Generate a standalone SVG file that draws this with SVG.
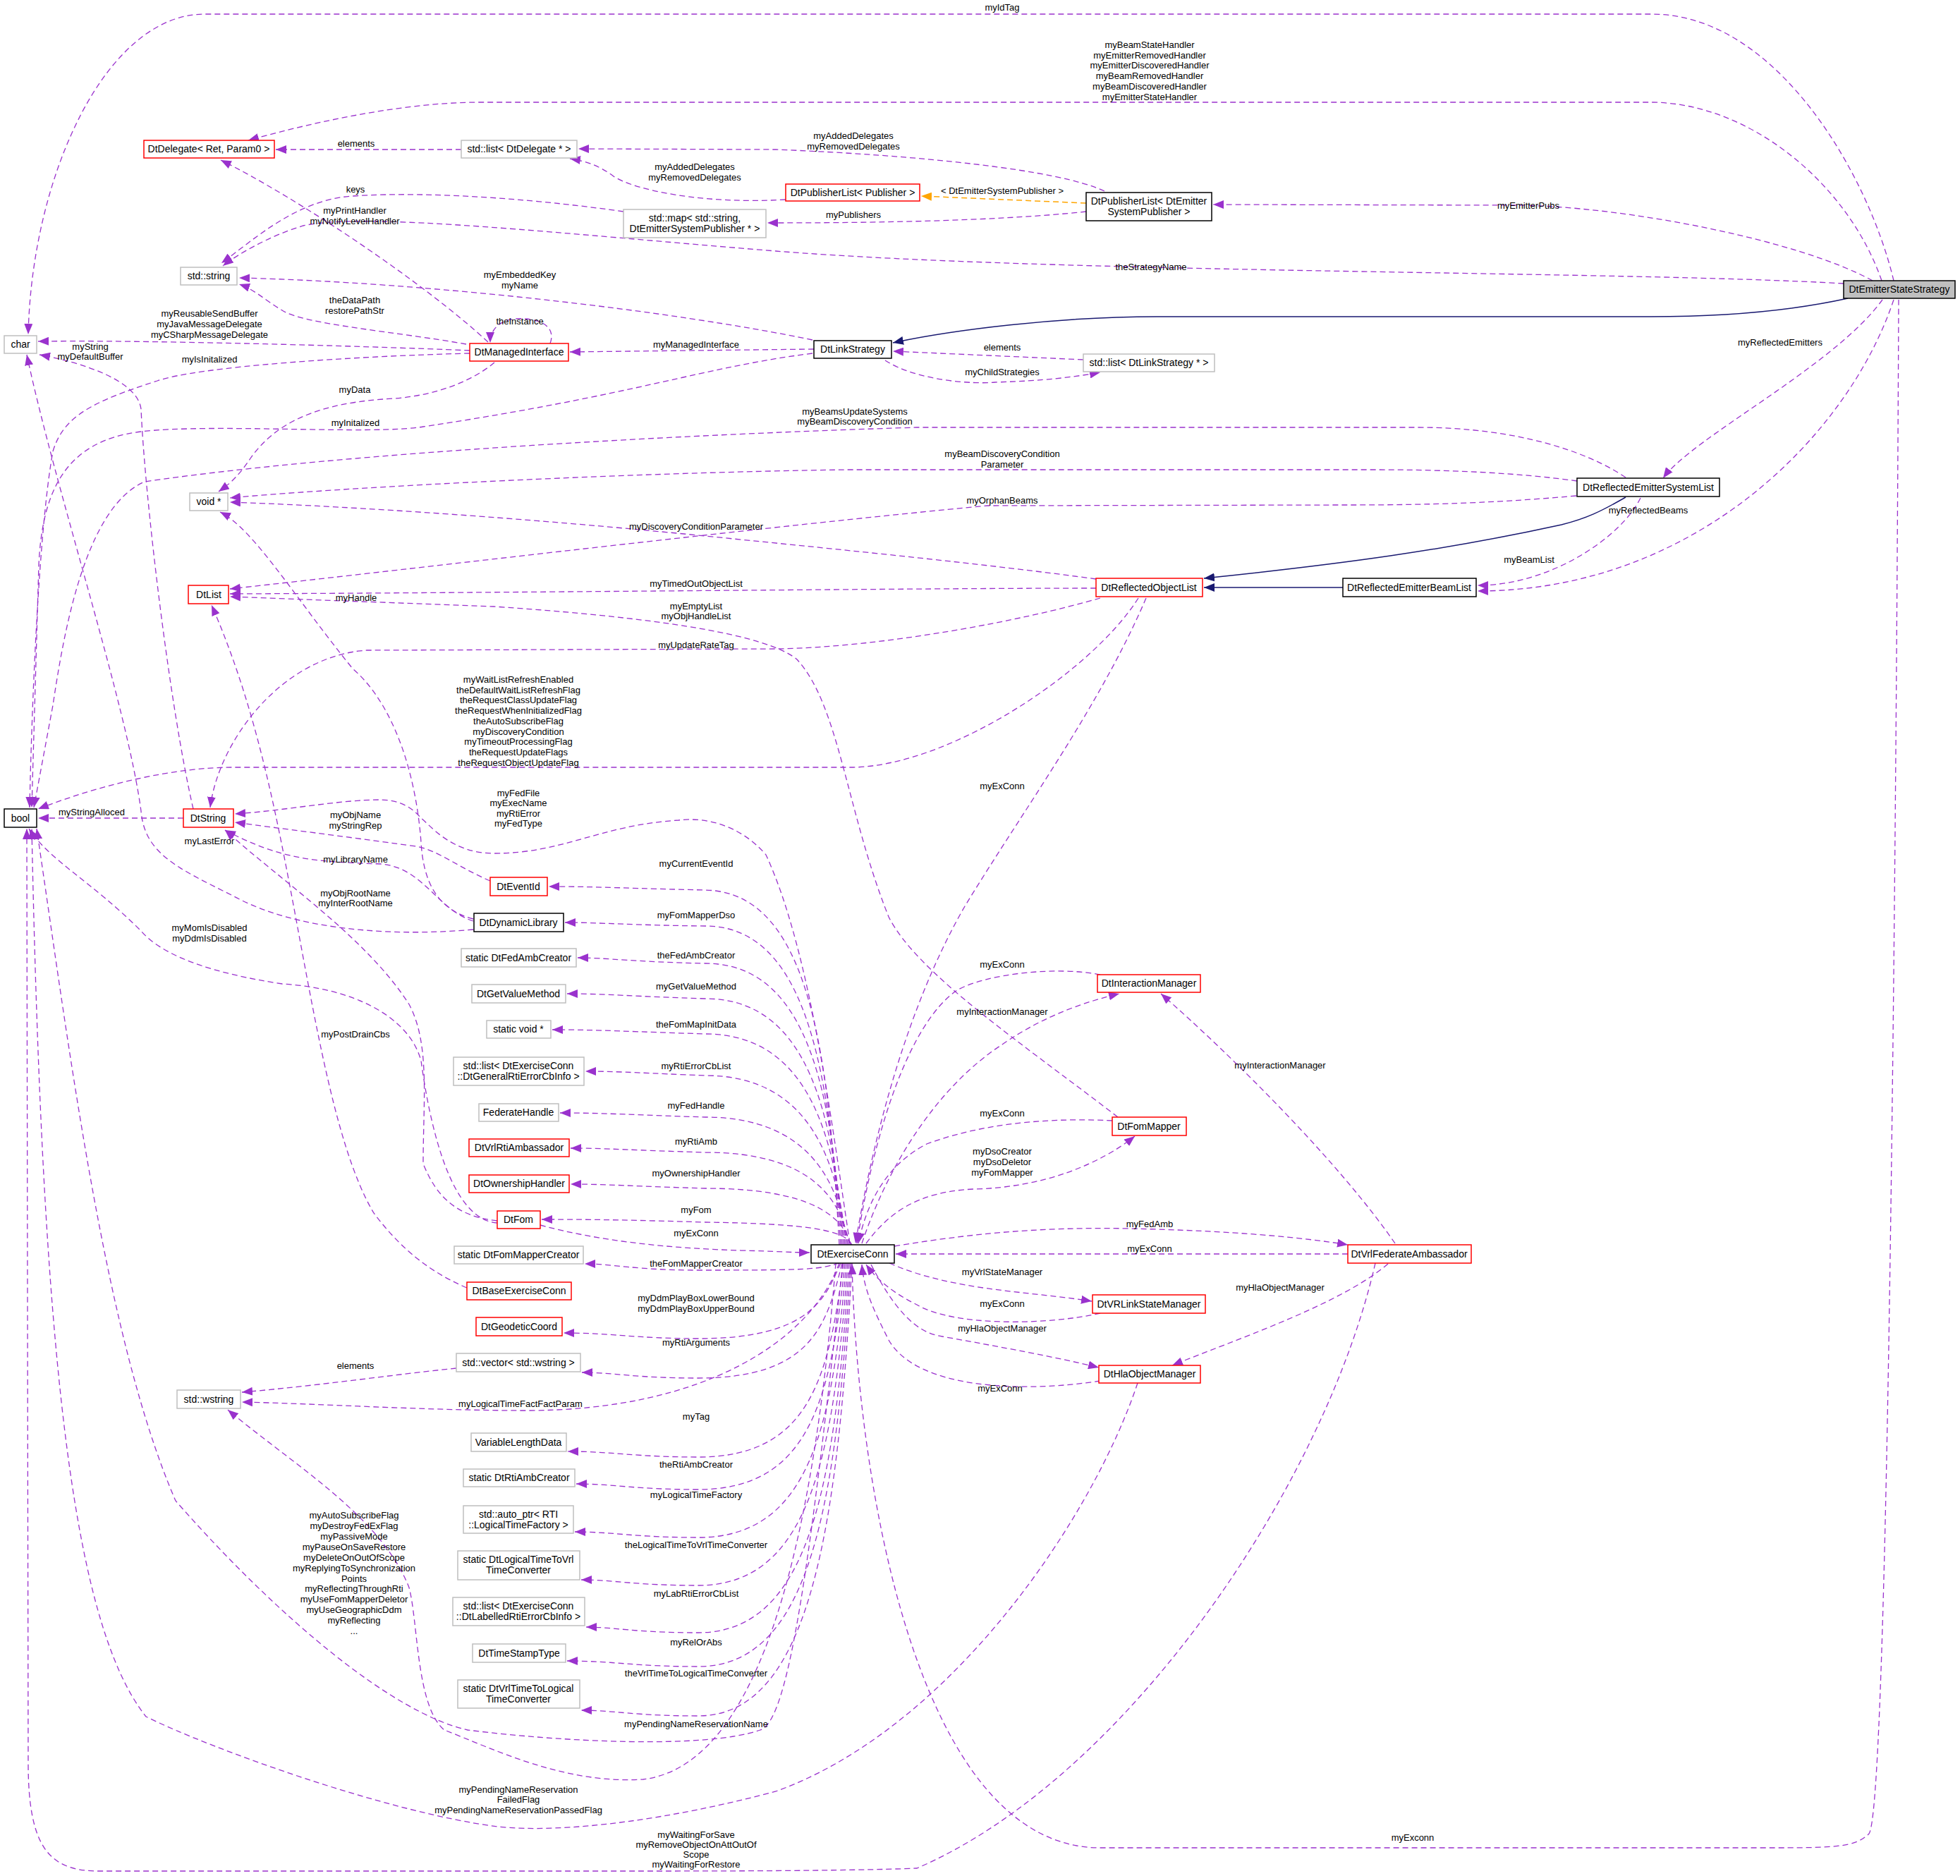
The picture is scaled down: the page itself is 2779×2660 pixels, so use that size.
<svg xmlns="http://www.w3.org/2000/svg" width="2779" height="2660" viewBox="0 0 2779 2660">
<style>
text{font-family:"Liberation Sans",Arial,sans-serif;fill:#000}
.n text{font-size:14px;text-anchor:middle}
.l{font-size:13px;text-anchor:middle}
.b{fill:#fff;stroke:#000;stroke-width:1.5}
.r{fill:#fff;stroke:#f00;stroke-width:1.5}
.g{fill:#fff;stroke:#bfbfbf;stroke-width:1.5}
.m{fill:#bfbfbf;stroke:#000;stroke-width:1.5}
#edges path{fill:none}
.p{stroke:#9a32cd;stroke-width:1.3;stroke-dasharray:8,5;marker-end:url(#ap)}
.i{stroke:#191970;stroke-width:1.5;marker-end:url(#ai)}
.o{stroke:#ffa500;stroke-width:1.5;stroke-dasharray:8,5;marker-end:url(#ao)}
</style>
<defs>
<marker id="ap" markerUnits="userSpaceOnUse" markerWidth="16" markerHeight="12" refX="15" refY="6" orient="auto"><path d="M0,0 L15,6 L0,12 z" fill="#9a32cd"/></marker>
<marker id="ai" markerUnits="userSpaceOnUse" markerWidth="16" markerHeight="12" refX="15" refY="6" orient="auto"><path d="M0,0 L15,6 L0,12 z" fill="#191970"/></marker>
<marker id="ao" markerUnits="userSpaceOnUse" markerWidth="16" markerHeight="12" refX="15" refY="6" orient="auto"><path d="M0,0 L15,6 L0,12 z" fill="#ffa500"/></marker>
</defs>
<rect width="2779" height="2660" fill="#fff"/>
<g id="edges">
<path class="p" d="M2685,398 C2650,250 2520,20 2342,20 L290,20 C150,20 45,250 40,474"/>
<path class="p" d="M2668,398 C2620,260 2480,145 2340,145 L680,145 C560,145 420,180 352,199"/>
<path class="p" d="M2655,398 C2550,340 2300,292 2150,291 L1720,290"/>
<path class="p" d="M2614,402 C2300,384 1500,388 1100,356 C800,332 520,300 430,320 C380,335 335,362 316,377"/>
<path class="i" d="M2620,423 C2520,445 2420,449 2340,449 L1640,449 C1500,449 1350,468 1266,486"/>
<path class="p" d="M2669,425 C2600,520 2400,620 2358,678"/>
<path class="p" d="M2685,425 C2620,620 2400,838 2095,838"/>
<path class="p" d="M2692,425 C2690,900 2680,2560 2650,2600 C2630,2620 2600,2620 2500,2620 L1560,2620 C1300,2620 1215,2100 1208,1792"/>
<path class="p" d="M1566,271 C1500,240 1300,220 1100,212 L820,211"/>
<path class="o" d="M1540,288 L1306,278"/>
<path class="p" d="M1540,300 C1400,315 1200,316 1088,316"/>
<path class="p" d="M1114,283 C1000,290 900,270 870,250 C850,235 830,228 808,225"/>
<path class="p" d="M654,212 L391,212"/>
<path class="p" d="M884,300 C780,285 620,270 500,278 C420,283 360,340 314,373"/>
<path class="p" d="M692,485 C600,400 420,280 313,227"/>
<path class="p" d="M661,488 C560,470 430,460 400,440 C375,425 360,410 339,403"/>
<path class="p" d="M780,487 C790,460 760,450 730,452 C705,455 695,470 695,486"/>
<path class="p" d="M666,497 C500,490 200,482 54,484"/>
<path class="p" d="M666,501 C500,505 280,520 223,540 C130,570 90,590 75,640 C55,750 45,1000 42,1145"/>
<path class="p" d="M701,514 C670,540 620,560 560,565 C450,570 390,600 355,650 C335,680 320,690 310,697"/>
<path class="p" d="M1152,482 C950,440 600,400 339,394"/>
<path class="p" d="M1154,495 L808,499"/>
<path class="p" d="M1152,501 C1000,520 900,560 600,605 C530,617 300,600 200,612 C90,625 60,700 55,800 L45,1145"/>
<path class="p" d="M1536,510 L1266,498"/>
<path class="p" d="M1255,511 C1300,540 1380,545 1411,542 C1480,540 1520,535 1560,528"/>
<path class="p" d="M2305,677 C2250,640 2150,606 2010,606 L1300,606 C1000,615 500,640 205,683 C120,720 90,900 75,1000 L48,1145"/>
<path class="p" d="M2236,682 C2150,670 2050,666 1950,666 L1200,666 C900,670 500,690 326,706"/>
<path class="p" d="M2235,703 C2100,715 2000,716 1900,716 L1400,717 C1100,745 600,805 326,835"/>
<path class="i" d="M2305,705 C2270,725 2250,735 2214,744 C2050,780 1900,800 1707,820"/>
<path class="p" d="M2326,706 C2300,760 2200,830 2095,830"/>
<path class="i" d="M1904,833 L1707,833"/>
<path class="p" d="M1554,821 C1400,800 1200,780 1000,760 C700,730 450,716 326,712"/>
<path class="p" d="M1554,834 C1300,834 800,840 326,842"/>
<path class="p" d="M1560,848 C1450,880 1250,918 1100,920 L520,922 C400,930 310,1050 298,1145"/>
<path class="p" d="M1614,848 C1550,950 1350,1085 1210,1088 L330,1088 C250,1088 150,1110 54,1147"/>
<path class="p" d="M1625,848 C1560,1000 1450,1150 1368,1285 C1290,1420 1240,1600 1213,1763"/>
<path class="p" d="M1585,1584 C1450,1480 1300,1380 1260,1300 C1200,1150 1190,1000 1130,935 C1100,910 1000,880 700,860 L326,846"/>
<path class="p" d="M671,1303 C620,1290 600,1250 597,1194 C590,1100 560,1000 500,948 C420,850 360,750 312,726"/>
<path class="p" d="M260,1160 L54,1160"/>
<path class="p" d="M274,1147 C240,1000 205,700 200,580 C195,540 120,515 56,503"/>
<path class="p" d="M671,1318 C560,1328 420,1320 330,1270 C250,1230 205,1210 200,1150 C180,1000 80,700 38,503"/>
<path class="p" d="M671,1306 C620,1290 600,1230 540,1225 C450,1222 400,1220 319,1177"/>
<path class="p" d="M695,1249 C650,1230 620,1205 590,1200 C480,1185 400,1175 333,1166"/>
<path class="p" d="M705,1731 C650,1725 620,1700 600,1650 C600,1560 610,1480 580,1424 C520,1330 400,1250 319,1177"/>
<path class="p" d="M705,1734 C640,1730 610,1600 597,1504 C580,1441 500,1401 400,1395 C300,1380 230,1355 200,1320 C130,1250 70,1220 41,1175"/>
<path class="p" d="M662,1826 C600,1800 560,1760 530,1720 C470,1620 440,1400 400,1200 C370,1050 340,950 300,858"/>
<path class="p" d="M1205,1763 C1180,1600 1150,1350 1086,1212 C1050,1170 1000,1158 962,1163 C850,1170 800,1210 700,1210 C640,1210 610,1170 597,1160 C580,1140 560,1134 539,1134 C480,1134 400,1150 333,1154"/>
<!-- EC to left column above -->
<path class="p" d="M1190,1765 C1175,1500 1150,1265 1000,1262 C900,1260 850,1257 778,1257"/>
<path class="p" d="M1192,1765 C1177,1540 1150,1313 1000,1313 C900,1312 850,1308 801,1308"/>
<path class="p" d="M1194,1765 C1180,1560 1150,1366 1000,1366 C900,1364 860,1358 819,1358"/>
<path class="p" d="M1196,1765 C1182,1590 1150,1416 1000,1416 C900,1413 860,1409 804,1409"/>
<path class="p" d="M1198,1765 C1185,1620 1150,1466 1000,1466 C900,1463 850,1460 783,1460"/>
<path class="p" d="M1200,1765 C1188,1650 1150,1525 1000,1525 C920,1522 880,1519 830,1519"/>
<path class="p" d="M1202,1765 C1190,1680 1150,1584 1000,1584 C900,1581 860,1578 794,1578"/>
<path class="p" d="M1204,1765 C1193,1700 1150,1634 1000,1634 C900,1631 860,1628 809,1628"/>
<path class="p" d="M1206,1765 C1196,1725 1150,1685 1000,1685 C900,1682 860,1679 809,1679"/>
<path class="p" d="M1208,1765 C1198,1745 1150,1735 1000,1733 C900,1730 850,1729 768,1729"/>
<path class="p" d="M766,1737 C850,1760 950,1770 1050,1773 C1100,1774 1120,1776 1148,1776"/>
<!-- EC to left column below -->
<path class="p" d="M1190,1791 C1160,1800 1150,1801 990,1801 C900,1801 870,1792 829,1792"/>
<path class="p" d="M1192,1791 C1170,1840 1150,1898 990,1898 C900,1898 870,1890 799,1890"/>
<path class="p" d="M1194,1791 C1172,1880 1150,1954 990,1954 C900,1954 870,1946 825,1946"/>
<path class="p" d="M1190,1791 C1150,1900 1000,2000 746,2000 C600,2000 450,1990 343,1988"/>
<path class="p" d="M647,1940 C550,1950 450,1965 343,1974"/>
<path class="p" d="M1196,1791 C1175,1950 1150,2066 990,2066 C900,2066 870,2058 805,2058"/>
<path class="p" d="M1198,1791 C1178,1980 1150,2112 990,2112 C900,2112 870,2104 817,2104"/>
<path class="p" d="M1200,1791 C1180,2020 1150,2180 990,2180 C900,2180 870,2172 815,2172"/>
<path class="p" d="M1202,1791 C1182,2060 1150,2248 990,2248 C900,2248 870,2240 824,2240"/>
<path class="p" d="M1204,1791 C1184,2100 1150,2315 990,2315 C900,2315 870,2307 831,2307"/>
<path class="p" d="M1206,1791 C1186,2130 1150,2363 990,2363 C900,2363 870,2355 804,2355"/>
<path class="p" d="M1208,1791 C1188,2160 1150,2433 990,2433 C900,2433 870,2425 824,2425"/>
<path class="p" d="M1185,1791 C1160,2100 1100,2500 912,2523 C800,2530 700,2480 630,2453 C590,2420 593,2300 580,2251 C540,2150 420,2080 323,1999"/>
<path class="p" d="M1195,1791 C1150,2200 1120,2440 1078,2453 C1000,2480 800,2470 663,2453 C560,2430 400,2300 249,2128 C150,1900 100,1500 52,1175"/>
<path class="p" d="M1613,1961 C1550,2150 1350,2450 1100,2540 C950,2580 800,2600 705,2590 C550,2570 300,2480 207,2434 C100,2300 60,1900 45,1175"/>
<path class="p" d="M1950,1791 C1880,2100 1600,2520 1300,2649 C1200,2653 1000,2653 900,2653 L140,2653 C70,2653 40,2620 40,2500 L38,1175"/>
<!-- right side -->
<path class="p" d="M1560,1382 C1500,1370 1400,1380 1357,1404 C1290,1450 1240,1600 1215,1763"/>
<path class="p" d="M1222,1763 C1260,1650 1330,1540 1421,1481 C1480,1440 1540,1420 1587,1409"/>
<path class="p" d="M1577,1589 C1500,1585 1400,1590 1314,1622 C1260,1650 1230,1700 1217,1763"/>
<path class="p" d="M1228,1763 C1260,1720 1300,1690 1380,1686 C1480,1684 1560,1650 1609,1611"/>
<path class="p" d="M1978,1763 C1900,1650 1750,1500 1646,1409"/>
<path class="p" d="M1268,1767 C1400,1745 1500,1740 1600,1742 C1750,1745 1850,1755 1911,1765"/>
<path class="p" d="M1911,1778 L1270,1778"/>
<path class="p" d="M1261,1791 C1350,1830 1450,1830 1548,1845"/>
<path class="p" d="M1560,1862 C1480,1880 1350,1880 1300,1850 C1260,1830 1240,1810 1228,1793"/>
<path class="p" d="M1235,1793 C1270,1860 1300,1890 1336,1895 C1420,1910 1500,1925 1558,1939"/>
<path class="p" d="M1560,1958 C1450,1975 1300,1970 1260,1900 C1240,1860 1225,1830 1222,1793"/>
<path class="p" d="M1968,1792 C1900,1850 1750,1900 1662,1936"/>
</g>
<g id="labels">
<text class="l" x="1421" y="15">myIdTag</text>
<text class="l" x="1630" y="68">myBeamStateHandler</text>
<text class="l" x="1630" y="83">myEmitterRemovedHandler</text>
<text class="l" x="1630" y="97">myEmitterDiscoveredHandler</text>
<text class="l" x="1630" y="112">myBeamRemovedHandler</text>
<text class="l" x="1630" y="127">myBeamDiscoveredHandler</text>
<text class="l" x="1630" y="142">myEmitterStateHandler</text>
<text class="l" x="2167" y="296">myEmitterPubs</text>
<text class="l" x="1632" y="383">theStrategyName</text>
<text class="l" x="2524" y="490">myReflectedEmitters</text>
<text class="l" x="2337" y="728">myReflectedBeams</text>
<text class="l" x="2003" y="2610">myExconn</text>
<text class="l" x="1210" y="197">myAddedDelegates</text>
<text class="l" x="1210" y="212">myRemovedDelegates</text>
<text class="l" x="1421" y="275">&lt; DtEmitterSystemPublisher &gt;</text>
<text class="l" x="1210" y="309">myPublishers</text>
<text class="l" x="985" y="241">myAddedDelegates</text>
<text class="l" x="985" y="256">myRemovedDelegates</text>
<text class="l" x="505" y="208">elements</text>
<text class="l" x="504" y="273">keys</text>
<text class="l" x="503" y="303">myPrintHandler</text>
<text class="l" x="503" y="318">myNotifyLevelHandler</text>
<text class="l" x="503" y="430">theDataPath</text>
<text class="l" x="503" y="445">restorePathStr</text>
<text class="l" x="737" y="460">theInstance</text>
<text class="l" x="297" y="449">myReusableSendBuffer</text>
<text class="l" x="297" y="464">myJavaMessageDelegate</text>
<text class="l" x="297" y="479">myCSharpMessageDelegate</text>
<text class="l" x="297" y="514">myIsInitalized</text>
<text class="l" x="128" y="496">myString</text>
<text class="l" x="128" y="510">myDefaultBuffer</text>
<text class="l" x="503" y="557">myData</text>
<text class="l" x="737" y="394">myEmbeddedKey</text>
<text class="l" x="737" y="409">myName</text>
<text class="l" x="987" y="493">myManagedInterface</text>
<text class="l" x="504" y="604">myInitalized</text>
<text class="l" x="1421" y="497">elements</text>
<text class="l" x="1421" y="532">myChildStrategies</text>
<text class="l" x="1212" y="588">myBeamsUpdateSystems</text>
<text class="l" x="1212" y="602">myBeamDiscoveryCondition</text>
<text class="l" x="1421" y="648">myBeamDiscoveryCondition</text>
<text class="l" x="1421" y="663">Parameter</text>
<text class="l" x="1421" y="714">myOrphanBeams</text>
<text class="l" x="2168" y="798">myBeamList</text>
<text class="l" x="987" y="751">myDiscoveryConditionParameter</text>
<text class="l" x="987" y="832">myTimedOutObjectList</text>
<text class="l" x="505" y="852">myHandle</text>
<text class="l" x="987" y="864">myEmptyList</text>
<text class="l" x="987" y="878">myObjHandleList</text>
<text class="l" x="987" y="919">myUpdateRateTag</text>
<text class="l" x="735" y="968">myWaitListRefreshEnabled</text>
<text class="l" x="735" y="983">theDefaultWaitListRefreshFlag</text>
<text class="l" x="735" y="997">theRequestClassUpdateFlag</text>
<text class="l" x="735" y="1012">theRequestWhenInitializedFlag</text>
<text class="l" x="735" y="1027">theAutoSubscribeFlag</text>
<text class="l" x="735" y="1042">myDiscoveryCondition</text>
<text class="l" x="735" y="1056">myTimeoutProcessingFlag</text>
<text class="l" x="735" y="1071">theRequestUpdateFlags</text>
<text class="l" x="735" y="1086">theRequestObjectUpdateFlag</text>
<text class="l" x="1421" y="1119">myExConn</text>
<text class="l" x="130" y="1156">myStringAlloced</text>
<text class="l" x="297" y="1197">myLastError</text>
<text class="l" x="735" y="1129">myFedFile</text>
<text class="l" x="735" y="1143">myExecName</text>
<text class="l" x="735" y="1158">myRtiError</text>
<text class="l" x="735" y="1172">myFedType</text>
<text class="l" x="504" y="1160">myObjName</text>
<text class="l" x="504" y="1175">myStringRep</text>
<text class="l" x="504" y="1223">myLibraryName</text>
<text class="l" x="504" y="1271">myObjRootName</text>
<text class="l" x="504" y="1285">myInterRootName</text>
<text class="l" x="297" y="1320">myMomIsDisabled</text>
<text class="l" x="297" y="1335">myDdmIsDisabled</text>
<text class="l" x="504" y="1471">myPostDrainCbs</text>
<text class="l" x="987" y="1229">myCurrentEventId</text>
<text class="l" x="987" y="1302">myFomMapperDso</text>
<text class="l" x="987" y="1359">theFedAmbCreator</text>
<text class="l" x="987" y="1403">myGetValueMethod</text>
<text class="l" x="987" y="1457">theFomMapInitData</text>
<text class="l" x="987" y="1516">myRtiErrorCbList</text>
<text class="l" x="987" y="1572">myFedHandle</text>
<text class="l" x="987" y="1623">myRtiAmb</text>
<text class="l" x="987" y="1668">myOwnershipHandler</text>
<text class="l" x="987" y="1720">myFom</text>
<text class="l" x="987" y="1753">myExConn</text>
<text class="l" x="987" y="1796">theFomMapperCreator</text>
<text class="l" x="987" y="1845">myDdmPlayBoxLowerBound</text>
<text class="l" x="987" y="1860">myDdmPlayBoxUpperBound</text>
<text class="l" x="987" y="1908">myRtiArguments</text>
<text class="l" x="504" y="1941">elements</text>
<text class="l" x="738" y="1995">myLogicalTimeFactFactParam</text>
<text class="l" x="987" y="2013">myTag</text>
<text class="l" x="987" y="2081">theRtiAmbCreator</text>
<text class="l" x="987" y="2124">myLogicalTimeFactory</text>
<text class="l" x="987" y="2195">theLogicalTimeToVrlTimeConverter</text>
<text class="l" x="987" y="2264">myLabRtiErrorCbList</text>
<text class="l" x="987" y="2333">myRelOrAbs</text>
<text class="l" x="987" y="2377">theVrlTimeToLogicalTimeConverter</text>
<text class="l" x="987" y="2449">myPendingNameReservationName</text>
<text class="l" x="502" y="2153">myAutoSubscribeFlag</text>
<text class="l" x="502" y="2168">myDestroyFedExFlag</text>
<text class="l" x="502" y="2183">myPassiveMode</text>
<text class="l" x="502" y="2198">myPauseOnSaveRestore</text>
<text class="l" x="502" y="2213">myDeleteOnOutOfScope</text>
<text class="l" x="502" y="2228">myReplyingToSynchronization</text>
<text class="l" x="502" y="2243">Points</text>
<text class="l" x="502" y="2257">myReflectingThroughRti</text>
<text class="l" x="502" y="2272">myUseFomMapperDeletor</text>
<text class="l" x="502" y="2287">myUseGeographicDdm</text>
<text class="l" x="502" y="2302">myReflecting</text>
<text class="l" x="502" y="2317">...</text>
<text class="l" x="735" y="2542">myPendingNameReservation</text>
<text class="l" x="735" y="2556">FailedFlag</text>
<text class="l" x="735" y="2571">myPendingNameReservationPassedFlag</text>
<text class="l" x="987" y="2606">myWaitingForSave</text>
<text class="l" x="987" y="2620">myRemoveObjectOnAttOutOf</text>
<text class="l" x="987" y="2634">Scope</text>
<text class="l" x="987" y="2648">myWaitingForRestore</text>
<text class="l" x="1421" y="1372">myExConn</text>
<text class="l" x="1421" y="1439">myInteractionManager</text>
<text class="l" x="1421" y="1583">myExConn</text>
<text class="l" x="1421" y="1637">myDsoCreator</text>
<text class="l" x="1421" y="1652">myDsoDeletor</text>
<text class="l" x="1421" y="1667">myFomMapper</text>
<text class="l" x="1815" y="1515">myInteractionManager</text>
<text class="l" x="1630" y="1740">myFedAmb</text>
<text class="l" x="1630" y="1775">myExConn</text>
<text class="l" x="1421" y="1808">myVrlStateManager</text>
<text class="l" x="1421" y="1853">myExConn</text>
<text class="l" x="1421" y="1888">myHlaObjectManager</text>
<text class="l" x="1418" y="1973">myExConn</text>
<text class="l" x="1815" y="1830">myHlaObjectManager</text>
</g>
<g class="n">
<g id="n_ess"><rect class="m" x="2614" y="398" width="158" height="25"/><text x="2693" y="415">DtEmitterStateStrategy</text></g>
<g id="n_char"><rect class="g" x="6" y="476" width="46" height="25"/><text x="29" y="493">char</text></g>
<g id="n_delegate"><rect class="r" x="204" y="199" width="185" height="25"/><text x="296" y="216">DtDelegate&lt; Ret, Param0 &gt;</text></g>
<g id="n_listdel"><rect class="g" x="654" y="199" width="164" height="25"/><text x="736" y="216">std::list&lt; DtDelegate * &gt;</text></g>
<g id="n_plpub"><rect class="r" x="1114" y="261" width="190" height="24"/><text x="1209" y="278">DtPublisherList&lt; Publisher &gt;</text></g>
<g id="n_ple"><rect class="b" x="1540" y="273" width="178" height="40"/><text x="1629" y="290">DtPublisherList&lt; DtEmitter</text><text x="1629" y="305">SystemPublisher &gt;</text></g>
<g id="n_map"><rect class="g" x="884" y="297" width="202" height="40"/><text x="985" y="314">std::map&lt; std::string,</text><text x="985" y="329">DtEmitterSystemPublisher * &gt;</text></g>
<g id="n_string"><rect class="g" x="256" y="379" width="80" height="25"/><text x="296" y="396">std::string</text></g>
<g id="n_mi"><rect class="r" x="666" y="487" width="140" height="25"/><text x="736" y="504">DtManagedInterface</text></g>
<g id="n_ls"><rect class="b" x="1154" y="483" width="110" height="25"/><text x="1209" y="500">DtLinkStrategy</text></g>
<g id="n_listls"><rect class="g" x="1536" y="502" width="186" height="25"/><text x="1629" y="519">std::list&lt; DtLinkStrategy * &gt;</text></g>
<g id="n_void"><rect class="g" x="269" y="699" width="54" height="25"/><text x="296" y="716">void *</text></g>
<g id="n_resl"><rect class="b" x="2236" y="678" width="202" height="26"/><text x="2337" y="696">DtReflectedEmitterSystemList</text></g>
<g id="n_dtlist"><rect class="r" x="267" y="830" width="57" height="26"/><text x="296" y="848">DtList</text></g>
<g id="n_rol"><rect class="r" x="1554" y="820" width="151" height="26"/><text x="1629" y="838">DtReflectedObjectList</text></g>
<g id="n_rebl"><rect class="b" x="1904" y="820" width="189" height="26"/><text x="1998" y="838">DtReflectedEmitterBeamList</text></g>
<g id="n_bool"><rect class="b" x="6" y="1147" width="46" height="26"/><text x="29" y="1165">bool</text></g>
<g id="n_dtstring"><rect class="r" x="260" y="1147" width="71" height="26"/><text x="295" y="1165">DtString</text></g>
<g id="n_eventid"><rect class="r" x="695" y="1244" width="81" height="26"/><text x="735" y="1262">DtEventId</text></g>
<g id="n_dynlib"><rect class="b" x="672" y="1295" width="127" height="26"/><text x="735" y="1313">DtDynamicLibrary</text></g>
<g id="n_fedamb"><rect class="g" x="654" y="1345" width="163" height="26"/><text x="735" y="1363">static DtFedAmbCreator</text></g>
<g id="n_getval"><rect class="g" x="669" y="1396" width="133" height="26"/><text x="735" y="1414">DtGetValueMethod</text></g>
<g id="n_svoid"><rect class="g" x="690" y="1447" width="91" height="25"/><text x="735" y="1464">static void *</text></g>
<g id="n_listgen"><rect class="g" x="643" y="1499" width="185" height="40"/><text x="735" y="1516">std::list&lt; DtExerciseConn</text><text x="735" y="1531">::DtGeneralRtiErrorCbInfo &gt;</text></g>
<g id="n_fedh"><rect class="g" x="679" y="1565" width="113" height="25"/><text x="735" y="1582">FederateHandle</text></g>
<g id="n_rtiamb"><rect class="r" x="665" y="1615" width="142" height="25"/><text x="736" y="1632">DtVrlRtiAmbassador</text></g>
<g id="n_own"><rect class="r" x="665" y="1666" width="142" height="25"/><text x="736" y="1683">DtOwnershipHandler</text></g>
<g id="n_fom"><rect class="r" x="705" y="1717" width="61" height="25"/><text x="735" y="1734">DtFom</text></g>
<g id="n_ec"><rect class="b" x="1150" y="1765" width="118" height="26"/><text x="1209" y="1783">DtExerciseConn</text></g>
<g id="n_fmc"><rect class="g" x="644" y="1767" width="183" height="25"/><text x="735" y="1784">static DtFomMapperCreator</text></g>
<g id="n_base"><rect class="r" x="662" y="1818" width="148" height="25"/><text x="736" y="1835">DtBaseExerciseConn</text></g>
<g id="n_geo"><rect class="r" x="675" y="1868" width="122" height="26"/><text x="736" y="1886">DtGeodeticCoord</text></g>
<g id="n_vec"><rect class="g" x="647" y="1919" width="176" height="26"/><text x="735" y="1937">std::vector&lt; std::wstring &gt;</text></g>
<g id="n_wstring"><rect class="g" x="251" y="1971" width="90" height="26"/><text x="296" y="1989">std::wstring</text></g>
<g id="n_vld"><rect class="g" x="668" y="2032" width="135" height="26"/><text x="735" y="2050">VariableLengthData</text></g>
<g id="n_rtiac"><rect class="g" x="657" y="2083" width="158" height="25"/><text x="736" y="2100">static DtRtiAmbCreator</text></g>
<g id="n_auto"><rect class="g" x="657" y="2135" width="156" height="39"/><text x="735" y="2152">std::auto_ptr&lt; RTI</text><text x="735" y="2167">::LogicalTimeFactory &gt;</text></g>
<g id="n_lt2v"><rect class="g" x="649" y="2199" width="173" height="41"/><text x="735" y="2216">static DtLogicalTimeToVrl</text><text x="735" y="2231">TimeConverter</text></g>
<g id="n_listlab"><rect class="g" x="642" y="2265" width="187" height="40"/><text x="735" y="2282">std::list&lt; DtExerciseConn</text><text x="735" y="2297">::DtLabelledRtiErrorCbInfo &gt;</text></g>
<g id="n_tst"><rect class="g" x="670" y="2331" width="132" height="26"/><text x="736" y="2349">DtTimeStampType</text></g>
<g id="n_v2lt"><rect class="g" x="649" y="2382" width="173" height="40"/><text x="735" y="2399">static DtVrlTimeToLogical</text><text x="735" y="2414">TimeConverter</text></g>
<g id="n_im"><rect class="r" x="1556" y="1382" width="146" height="25"/><text x="1629" y="1399">DtInteractionManager</text></g>
<g id="n_fm"><rect class="r" x="1577" y="1584" width="105" height="26"/><text x="1629" y="1602">DtFomMapper</text></g>
<g id="n_vfa"><rect class="r" x="1911" y="1765" width="175" height="26"/><text x="1998" y="1783">DtVrlFederateAmbassador</text></g>
<g id="n_vrlsm"><rect class="r" x="1549" y="1836" width="160" height="26"/><text x="1629" y="1854">DtVRLinkStateManager</text></g>
<g id="n_hom"><rect class="r" x="1558" y="1936" width="144" height="25"/><text x="1630" y="1953">DtHlaObjectManager</text></g>
</g>
</svg>
